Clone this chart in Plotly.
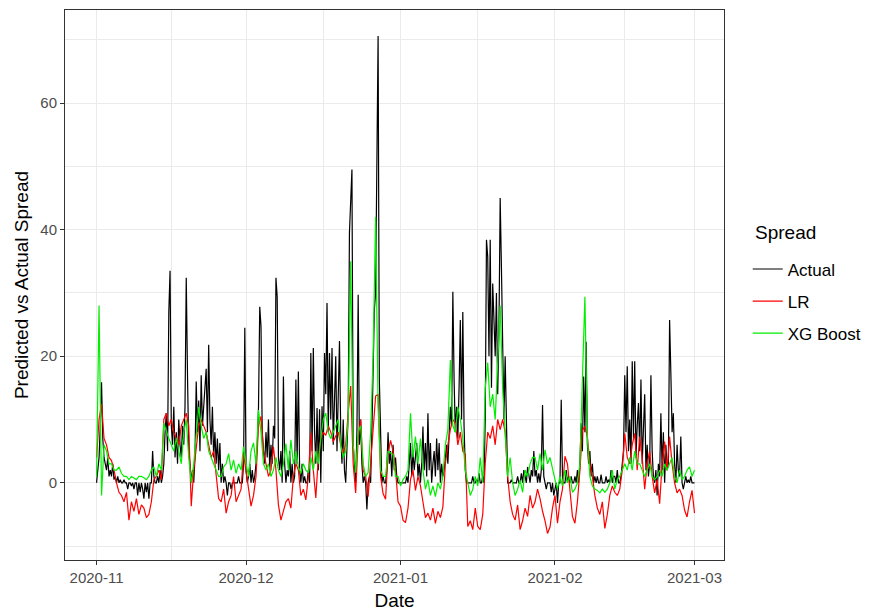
import pandas as pd
import plotly.graph_objects as go

# ---------------- data ----------------
# Actual spread: 4 readings per day (00h, 06h, 12h, 18h)
actual_nov = [
    0, 2, 4, 9,  15.9, 7, 4, 3,  2, 4, 1, 2,  1, 3, 0.5, 1,  0, 1, 0, 0.5,
    0, 0, 0.5, 0,  0, -1, 0, 0,  -0.5, 0, -1, 0,  0, -2, 0, -1.5,  0, -1, -2.5, 0,
    -1.5, 0, -2.5, 0,  0, 5, 1, 0,  0, 1, 0, 2,  0, 1, 3, 8,  11, 5, 27, 33.5,
    9, 6, 12, 4,  8, 3, 10, 6,  4, 9, 6, 12,  32.4, 17, 5, 3,  0, 2, 0, 4,
    16, 8, 13, 5,  17, 9, 12, 15,  18, 8, 21.8, 10,  6, 12, 4, 8,  3, 7, 2, 6.3,
    0, 3, 0, 1,  0, -2, 0, 0,  -1, 0, 0, 0,  0, 0, 1, 0,  0, 0, 3, 24.5,
]
actual_dec = [
    2, 0, 1, 3,  0, 2, 0, 1,  3, 6, 12, 27.8,  24.7, 8, 5, 3,  8, 4, 10, 2,
    6, 3, 9, 7,  32.4, 29.4, 4, 2,  5, 0, 16.8, 3,  0, 2, 1, 5,  0, 3, 0, 1,
    16.3, 3, 17.6, 2,  0, 3, 0, 1,  0, 0, 2, 0,  20.5, 5, 21.3, 8,  3, 11.8, 2, 11.6,
    0, 12.1, 5, 20.5,  14, 28.4, 8, 20.5,  10, 21.3, 6, 15,  20, 5, 14, 22.4,  8, 3, 10, 2,
    0, 6, 11, 39.5,  45, 49.5, 6, 2,  0, 8, 29.7, 6,  10, 3, 0, 1,  0, -4.2, 0, 1,
    0, 8, 20.5, 27.4,  30, 57, 70.6, 16.3,  5, 0, 1, 0,  0, 2, 8, 3,  5, 1, 6, 2,
    4, 1, 0, 0,
]
actual_jan = [
    0, 0, 0, 0,  0, 1, 0, 3,  6.3, 1, 5, 2,  4, 6.3, 1, 3,  0, 3, 8.9, 2,
    6.3, 1, 11, 2,  6.3, 0, 3, 5,  1, 7, 2, 6.3,  0, 3, 1, 2,  4, 6, 3, 8,
    12, 9, 30.2, 16.3,  8, 12, 7, 15,  25.7, 10, 27, 9,  2, 0, 0, 0,  0, 0, 1, 0,
    0, 0.5, 0, 1.5,  0, 0, 1, 0,  10, 38.4, 35.7, 20,  38.4, 15, 31.5, 25,  20, 30, 14, 24,
    45, 34, 18, 10,  20, 8, 0, 0,  0, 0.5, 0, 0,  0, 0, 1, 0,  0, 1.5, 0, 2,
    1, 0, 2.5, 1,  0, 2, 1, 5,  1, 2, 0, 1.5,  0, 2, 12.3, 1,  0, -1, 0, 0,
    0, -1.5, 0, -2,
]
actual_feb = [
    -1, 0, -3.2, 0,  0, 13.1, 1, 0,  0, 2, 0, 1,  0, 1, 0, 0,  1, 0, 2, 0,
    3, 9.4, 5, 16.8,  8, 22.3, 6, 3,  5, 1, 3, 0,  1, 0, 1, 0,  0, 1.3, 0, 0,
    0, 1, 0, 0.5,  0, 2, 0, 1,  1, 0, 2, 0,  0, 1, 3, 5,  17, 8, 18.4, 5,
    10, 3, 19.2, 7,  19.2, 4, 9, 12.6,  5, 16.3, 3, 8,  14, 2, 6, 1,  3, 17, 5, 1,
    0, 2, -2, 3,  1, 11, 2, 8,  0, 6, 2, 3,  25.7, 17.3, 8, 11,  3, 0, 6, 2,
    1, 7.3, 0, -1,  0, 1, 0, 0.5,  0, 1, 0, 0,
]
actual_mar = [0]

# LR prediction: 2 readings per day (00h, 12h)
lr_nov = [
    4, 10,  12.5, 7,  6, 4,  3.5, 2,  0, -1.5,  -2, -3,  -1.5, -5.9,  -3, -4.5,  -2.5, -5,  -3.5, -4,
    -5.5, -5,  -3, 0.5,  1, 2,  0.5, 10,  11, 9,  10, 8,  7, 6,  9, 10,  11, 9,  -3.7, 2,
    6, 9,  10, 9,  8, 6,  4, 5,  1, -2.5,  -3, -1,  -4.8, -3,  -2, 1,  -3, -2,  -1, 4.6,
]
lr_dec = [
    2, -1,  -3.7, -2,  1, 9,  10.5, 5,  3, 1,  2, 5.7,  2, -3.5,  -5.9, -4.3,  -3, -2.5,  -4, 1,
    3, 2,  -2, -1,  -2.7, 1,  7.9, 2,  -2.4, 4,  7, 8,  7.5, 9,  8, 6.5,  7.4, 8,  6, 4.7,
    6, 11,  15.3, 3,  -1.6, 7,  10, 2,  1, -2.2,  3, 8,  13.7, 14,  1, -1.7,  -2.6, 4.7,  6.7, 5,
    2, -3,
]
lr_jan = [
    -3.7, -5.9,  -6.3, -4,  0.5, 2,  -1.2, 1,  -0.5, -3,  -5.5, -4.8,  -5.9, -4,  -6.4, -4.5,  -5.5, -3.8,  3, 6,
    8.4, 10,  9.4, 6,  8, 5,  4.5, -6.9,  -6, -7.4,  -4, -6.9,  -7.4, -5,  3, 8,  7, 9,  6, 10,
    8.4, 10,  8, 1,  -3, -5,  -5.9, -3.5,  -7.4, -6,  -4, -5.3,  -2, -4,  -3, -1,  -2.5, -4.5,  -6, -8,
    -7, -4,
]
lr_feb = [
    -2, -6.4,  -3, -1,  4.2, 3,  -1, -5.3,  -6.4, -3,  2, 8.3,  8.9, 7.3,  3, 1,  -2, -4,  -5, -3,
    -7.2, -5,  -2, -0.5,  -1.5, -2,  -1, 2,  7.8, 4,  3, 6,  7.8, 2,  7.3, 4,  -1, 3,  5, 1,
    -1.6, 0.5,  -3.3, 3,  6.5, 2,  7.3, 3,  0, -1.6,  -1, -2,  -4.3, -5.4,  -3, -1.2,
]
lr_mar = [-4.8]

# XG Boost prediction: 2 readings per day (00h, 12h)
xg_nov = [
    1, 28,  -2, 6,  5, 3,  3, 2,  2, 2.5,  1.5, 1,  1, 0.5,  1, 0.8,  0.5, 1,  1, 0.8,
    0.5, 1,  2, 2.5,  1, 3,  2, 9.4,  8, 7,  6, 5,  7, 5,  3, 8,  10, 4,  0, 3,
    8, 12,  9, 7,  8, 5,  4, 3,  2, 1,  1, 2.5,  3, 4.6,  2, 3.6,  1.5, 3,  2, 5.7,
]
xg_dec = [
    3, 1,  5, 6.3,  3, 11.5,  8, 3,  2, 3,  1, 2,  4, 2,  1, 3,  6.2, 2,  6.8, 3,
    5, 2.5,  1.5, 3,  2, 1.6,  4, 2,  5, 3,  7, 10,  11, 8,  7, 8,  9, 10,  6, 4,
    5, 10,  35, 6,  1.6, 8,  9, 3,  1, 1.6,  8, 20,  42, 12,  2, 1,  1, 5,  4.7, 4.5,
    1, 1,
]
xg_jan = [
    -0.5, 0.5,  1, 2,  11, 4,  7.3, 3,  7, 2,  -1, 0.5,  -2, -0.5,  -2.2, 0,  -1, 1,  6, 8.4,
    19.4, 9,  8, 12,  10, 7,  2, 0,  -2, -1,  1, -0.5,  4, 0,  15, 19,  12, 14,  10, 19,
    28, 15,  8, 1,  4, 0,  -2, -1,  0.4, -1.5,  2, 1,  3, 4,  4, 2,  4.6, 2,  5.2, 3,
    4, 2,
]
xg_feb = [
    0.5, -1,  1, -0.5,  2, 0,  1, -1.5,  -1, 0,  3, 16.3,  29.4, 7,  1, -0.5,  -1, -1.2,  -1.6, -1,
    -1.5, -1,  0, 2,  -1, 0.5,  1, 2,  3, 2,  4, 2,  5, 3,  3, 2,  1, 2,  3, 1,
    0.5, 1,  2, 1,  3, 2,  3, 4,  1, 0,  2, 0.5,  1, 2,  2.5, 1,
]
xg_mar = [2]

month_starts = ["2020-11-01", "2020-12-01", "2021-01-01", "2021-02-01", "2021-03-01"]
series_names = ["Actual", "LR", "XG Boost"]
series_colors = ["#000000", "#FF0000", "#00EE00"]
legend_title = "Spread"


def build(months, freq):
    xs, ys = [], []
    for start, vals in zip(month_starts, months):
        xs.extend(pd.date_range(start, periods=len(vals), freq=freq))
        ys.extend(vals)
    return xs, ys


actual_x, actual_y = build([actual_nov, actual_dec, actual_jan, actual_feb, actual_mar], "6h")
lr_x, lr_y = build([lr_nov, lr_dec, lr_jan, lr_feb, lr_mar], "12h")
xg_x, xg_y = build([xg_nov, xg_dec, xg_jan, xg_feb, xg_mar], "12h")

fig = go.Figure()
for i, (nm, xs, ys) in enumerate(zip(series_names, [actual_x, lr_x, xg_x], [actual_y, lr_y, xg_y])):
    fig.add_trace(go.Scatter(
        x=xs, y=ys, mode="lines", name=nm, legendgroup=nm,
        line=dict(color=series_colors[i], width=1.2),
    ))

ms = pd.to_datetime(month_starts)
minor_x = [ms[i] + (ms[i + 1] - ms[i]) / 2 for i in range(len(ms) - 1)]

FONT = "Liberation Sans, Arial, sans-serif"
GRID = "#EBEBEB"

fig.add_annotation(
    text=legend_title, xref="paper", yref="paper", x=1.044, y=0.596,
    xanchor="left", yanchor="middle", showarrow=False,
    font=dict(size=19, color="#000000", family=FONT),
)

fig.update_layout(
    width=876, height=611,
    margin=dict(l=65, r=152, t=10, b=51, autoexpand=False),
    paper_bgcolor="white", plot_bgcolor="white",
    font=dict(family=FONT, color="#000000"),
    showlegend=True,
    legend=dict(
        font=dict(size=17, color="#000000"),
        x=1.036, xanchor="left", y=0.561, yanchor="top",
        tracegroupgap=7, traceorder="grouped",
        bgcolor="rgba(0,0,0,0)",
    ),
    xaxis=dict(
        type="date", automargin=False,
        range=["2020-10-25 16:00", "2021-03-06 22:00"],
        tick0="2020-11-01", dtick="M1", tickformat="%Y-%m",
        ticks="outside", ticklen=4, tickcolor="#333333", tickwidth=1,
        tickfont=dict(size=15, color="#4D4D4D"),
        showgrid=True, gridcolor=GRID, gridwidth=1,
        minor=dict(tickmode="array", tickvals=minor_x, showgrid=True,
                   gridcolor=GRID, gridwidth=0.6, ticks=""),
        showline=True, linecolor="#333333", linewidth=1, mirror=True,
        zeroline=False,
        title=dict(text="Date", font=dict(size=19), standoff=10),
    ),
    yaxis=dict(
        automargin=False,
        range=[-12.2, 74.7],
        tick0=0, dtick=20,
        ticks="outside", ticklen=4, tickcolor="#333333", tickwidth=1,
        tickfont=dict(size=15, color="#4D4D4D"),
        showgrid=True, gridcolor=GRID, gridwidth=1,
        minor=dict(dtick=10, showgrid=True, gridcolor=GRID, gridwidth=0.6, ticks=""),
        showline=True, linecolor="#333333", linewidth=1, mirror=True,
        zeroline=False,
        title=dict(text="Predicted vs Actual Spread", font=dict(size=19), standoff=6),
    ),
)

fig.write_html("out.html")
